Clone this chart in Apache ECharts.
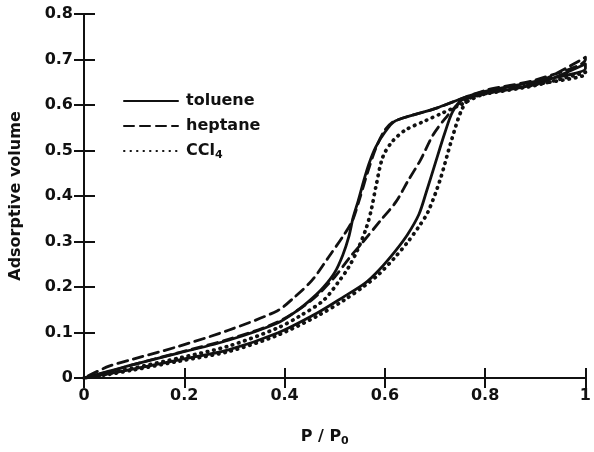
<!DOCTYPE html>
<html>
<head>
<meta charset="utf-8">
<script src="https://cdn.jsdelivr.net/npm/echarts@6/dist/echarts.min.js"></script>
<style>html,body{margin:0;padding:0;background:#fff}#c{width:594px;height:452px}</style>
</head>
<body>
<div id="c"></div>
<script>
// ---- data (P/P0, adsorptive volume); each loop: adsorption branch then desorption branch ----
const seriesNames = ['toluene', 'heptane', 'CCl4'];
const xTicks = [0, 0.2, 0.4, 0.6, 0.8, 1];
const yTicks = [0, 0.1, 0.2, 0.3, 0.4, 0.5, 0.6, 0.7, 0.8];

const tolueneAds = [[0,0],[0.05,0.01],[0.1,0.02],[0.19,0.04],[0.288,0.062],[0.386,0.099],[0.465,0.143],[0.52,0.18],[0.56,0.208],[0.588,0.237],[0.62,0.278],[0.645,0.315],[0.668,0.36],[0.683,0.41],[0.7,0.47],[0.72,0.54],[0.735,0.585],[0.755,0.612],[0.8,0.625],[0.9,0.645],[1.0,0.69]];
const tolueneDes = [[1.0,0.68],[0.9,0.652],[0.8,0.63],[0.76,0.617],[0.7,0.592],[0.65,0.576],[0.618,0.563],[0.6,0.54],[0.582,0.508],[0.568,0.47],[0.557,0.43],[0.547,0.39],[0.537,0.354],[0.528,0.31],[0.516,0.27],[0.5,0.232],[0.478,0.2],[0.455,0.175],[0.425,0.148],[0.386,0.121],[0.288,0.083],[0.19,0.055],[0.1,0.03],[0.05,0.015],[0,0]];

const heptaneAds = [[0,0],[0.05,0.014],[0.1,0.03],[0.19,0.056],[0.288,0.085],[0.386,0.123],[0.455,0.172],[0.5,0.222],[0.53,0.265],[0.557,0.3],[0.592,0.347],[0.622,0.387],[0.647,0.435],[0.671,0.479],[0.696,0.534],[0.72,0.57],[0.75,0.605],[0.8,0.628],[0.9,0.648],[1.0,0.705]];
const heptaneDes = [[1.0,0.7],[0.9,0.655],[0.8,0.632],[0.7,0.592],[0.62,0.565],[0.6,0.545],[0.582,0.505],[0.565,0.45],[0.55,0.395],[0.535,0.345],[0.518,0.314],[0.488,0.266],[0.455,0.215],[0.42,0.178],[0.386,0.148],[0.288,0.105],[0.19,0.07],[0.1,0.042],[0.05,0.026],[0,0]];

const ccl4Ads = [[0,0],[0.05,0.008],[0.1,0.018],[0.19,0.037],[0.288,0.058],[0.386,0.094],[0.465,0.136],[0.52,0.172],[0.56,0.203],[0.588,0.228],[0.62,0.265],[0.645,0.298],[0.668,0.333],[0.686,0.365],[0.71,0.435],[0.733,0.523],[0.753,0.589],[0.77,0.615],[0.8,0.624],[0.9,0.643],[1.0,0.672]];
const ccl4Des = [[1.0,0.668],[0.9,0.645],[0.8,0.625],[0.75,0.6],[0.714,0.582],[0.68,0.565],[0.641,0.545],[0.615,0.52],[0.596,0.486],[0.582,0.42],[0.573,0.37],[0.563,0.33],[0.545,0.28],[0.527,0.242],[0.51,0.215],[0.478,0.171],[0.43,0.136],[0.386,0.11],[0.288,0.07],[0.19,0.044],[0.1,0.022],[0.05,0.01],[0,0]];

const loops = [tolueneAds.concat(tolueneDes), heptaneAds.concat(heptaneDes), ccl4Ads.concat(ccl4Des)];
const dashTypes = ['solid', [10, 6], [0.5, 6]];
const widths = [2.8, 2.8, 3.7];

const FONT = 'DejaVu Sans';
const INK = '#111';
const chart = echarts.init(document.getElementById('c'), null, {renderer: 'canvas'});

const xLabel = v => xTicks.includes(+v.toFixed(2)) ? (v === 0 ? '0' : v === 1 ? '1' : v.toFixed(1)) : '';
const yLabel = v => v === 0 ? '0' : v.toFixed(1);

chart.setOption({
  animation: false,
  backgroundColor: '#fff',
  grid: {left: 83, right: 1, top: 14, bottom: 74},
  legend: {
    left: 118, top: 88, orient: 'vertical', itemGap: 9,
    itemWidth: 54, itemHeight: 16,
    data: seriesNames,
    itemStyle: {opacity: 0},
    formatter: n => n === 'CCl4' ? 'CCl{sub|4}' : n,
    textStyle: {fontFamily: FONT, fontSize: 16, fontWeight: 'bold', color: INK, padding: [0, 0, 0, 3],
      rich: {sub: {fontFamily: FONT, fontSize: 11, fontWeight: 'bold', color: INK, padding: [8, 0, 0, 0]}}}
  },
  xAxis: [{
    type: 'value', min: 0, max: 1, interval: 0.2,
    name: 'P / P{sub|0}', nameLocation: 'middle', nameGap: 48,
    nameTextStyle: {fontFamily: FONT, fontSize: 16, fontWeight: 'bold', color: INK, padding: [0, 20, 0, 0],
      rich: {sub: {fontFamily: FONT, fontSize: 11, fontWeight: 'bold', color: INK, padding: [10, 0, 0, 0]}}},
    axisLine: {lineStyle: {color: INK, width: 2}},
    axisTick: {inside: true, length: 10, lineStyle: {color: INK, width: 2}},
    axisLabel: {fontFamily: FONT, fontSize: 16, fontWeight: 'bold', color: INK, margin: 10, formatter: xLabel},
    splitLine: {show: false}
  }, {
    type: 'value', min: 0, max: 1, interval: 0.2, position: 'top',
    axisLine: {show: true, lineStyle: {color: INK, width: 2}},
    axisTick: {show: true, inside: true, length: 10, lineStyle: {color: INK, width: 2}},
    axisLabel: {show: false}, splitLine: {show: false}
  }],
  yAxis: [{
    type: 'value', min: 0, max: 0.8, interval: 0.1,
    name: 'Adsorptive volume', nameLocation: 'middle', nameGap: 60, nameRotate: 90,
    nameTextStyle: {fontFamily: FONT, fontSize: 16, fontWeight: 'bold', color: INK},
    axisLine: {show: true, lineStyle: {color: INK, width: 2}},
    axisTick: {show: true, inside: true, length: 11, lineStyle: {color: INK, width: 2}},
    axisLabel: {fontFamily: FONT, fontSize: 16, fontWeight: 'bold', color: INK, margin: 11, formatter: yLabel},
    splitLine: {show: false}
  }, {
    type: 'value', min: 0, max: 0.8, interval: 0.1, position: 'right',
    axisLine: {show: true, lineStyle: {color: INK, width: 2}},
    axisTick: {show: true, inside: true, length: 10, lineStyle: {color: INK, width: 2}},
    axisLabel: {show: false}, splitLine: {show: false}
  }],
  series: seriesNames.map((n, i) => ({
    name: n, type: 'line', data: loops[i], symbol: 'none', smooth: 0.3,
    itemStyle: {color: INK},
    lineStyle: {color: INK, width: widths[i], type: dashTypes[i], cap: 'round', join: 'round'}
  }))
});
</script>
</body>
</html>
